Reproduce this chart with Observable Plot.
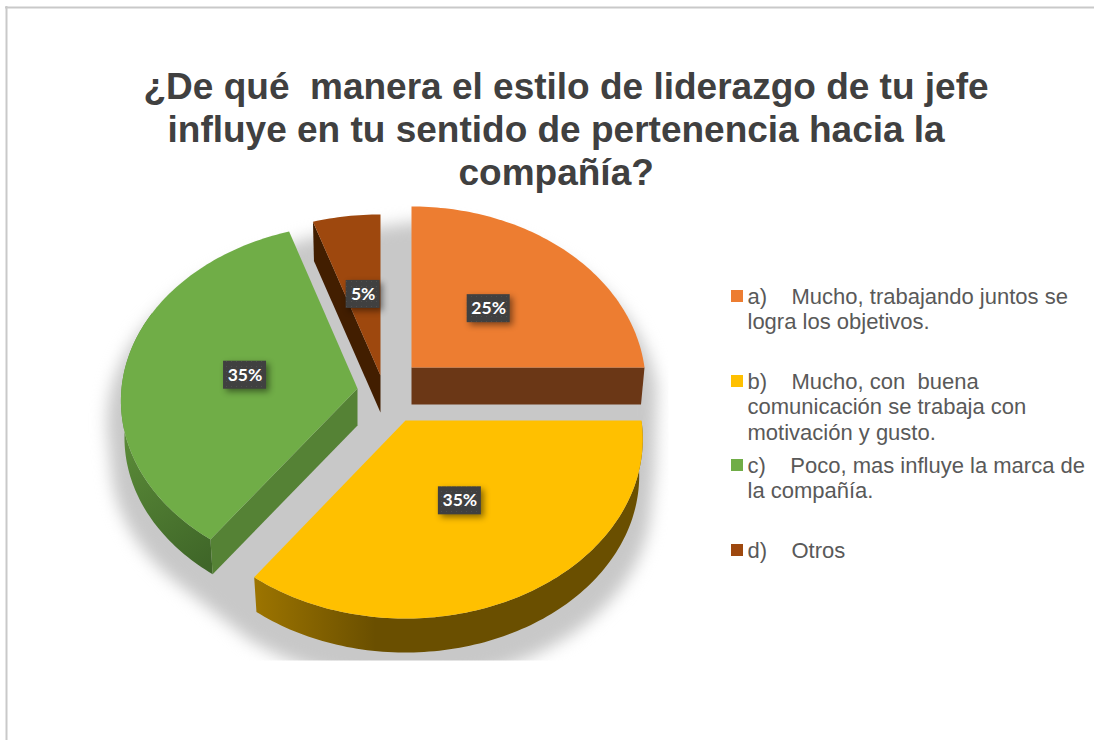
<!DOCTYPE html>
<html>
<head>
<meta charset="utf-8">
<script src="https://cdn.jsdelivr.net/npm/d3@7"></script>
<script src="https://cdn.jsdelivr.net/npm/@observablehq/plot@0.6"></script>
<style>
html,body{margin:0;padding:0;background:#fff;overflow:hidden}
#defs{position:absolute;width:0;height:0}
</style>
</head>
<body>
<svg id="defs" aria-hidden="true">
  <defs>
    <linearGradient id="yellowWall" gradientUnits="userSpaceOnUse" x1="255" y1="0" x2="375" y2="0">
      <stop offset="0" stop-color="#9c7400"/><stop offset="1" stop-color="#6a4f00"/>
    </linearGradient>
    <linearGradient id="greenWall" gradientUnits="userSpaceOnUse" x1="125" y1="440" x2="212" y2="560">
      <stop offset="0" stop-color="#5a8a38"/><stop offset="1" stop-color="#3f6628"/>
    </linearGradient>
    <pattern id="dots" patternUnits="userSpaceOnUse" width="5" height="5">
      <rect width="5" height="5" fill="#404040"/>
      <rect x="1" y="1" width="1" height="1" fill="#4f4f4f"/>
    </pattern>
    <clipPath id="shadowClip"><rect x="0" y="0" width="668" height="660"/></clipPath>
  </defs>
</svg>
<div id="chart"></div>
<script>
// ---- data ----
const titleLines = ["¿De qué  manera el estilo de liderazgo de tu jefe", "influye en tu sentido de pertenencia hacia la", "compañía?"];
const shares = [25, 35, 35, 5];
const shareLabels = ["25%", "35%", "35%", "5%"];
const legendLines = [
  ["a)    Mucho, trabajando juntos se", "logra los objetivos."],
  ["b)    Mucho, con  buena", "comunicación se trabaja con", "motivación y gusto."],
  ["c)    Poco, mas influye la marca de", "la compañía."],
  ["d)    Otros"]
];
const topColors = ["#ed7d31", "#ffc000", "#70ad47", "#9e480e"];
const wallColors = ["#6b3716", "url(#yellowWall)", "url(#greenWall)", "#421e00"];
const cutWallColors = ["#6b3716", null, "#558235", "#421e00"];

// ---- layout of the exploded, tilted pie ----
const apexX = [411, 405, 357, 380];
const apexY = [367, 420, 388, 375];
const radiusX = [233, 236, 236, 240];
const tilts = [177.6, 177.6, 176, 177.6];
const persps = [0.103, 0.103, 0.07, 0.103];
const depth = 37, depthShrink = 0.985;
const titleX = [143, 167, 458], titleY = [98, 141, 184];
const legendFirstBaseline = [303, 388, 472, 557];
const legendLeading = 25.5;

const arcs = d3.pie().sort(null).value(d => d)(shares);

function project(i, angle, r, low) {
  const u = r * Math.sin(angle), v = -r * Math.cos(angle);
  const s = (1 / (1 - persps[i] * v)) * (low ? depthShrink : 1);
  return {x: apexX[i] + radiusX[i] * u * s, y: apexY[i] + tilts[i] * v * s + (low ? depth : 0)};
}
function rim(i, a0, a1, low) {
  const n = Math.max(2, Math.ceil(Math.abs(a1 - a0) / 0.02));
  return d3.range(n + 1).map(k => project(i, a0 + (a1 - a0) * k / n, 1, low));
}
const face = (i, low) => [project(i, 0, 0, low), ...rim(i, arcs[i].startAngle, arcs[i].endAngle, low)];
const poly = (pts, fill) => Plot.line(pts, {x: "x", y: "y", fill, stroke: "none"});
const cutWall = (i, angle) => [project(i, 0, 0, false), project(i, angle, 1, false), project(i, angle, 1, true), project(i, 0, 0, true)];
const outerWall = (i, a0, a1) => [...rim(i, a0, a1, false), ...rim(i, a1, a0, true)];

// soft shadow: hull of all the slices, grown and pushed down, then blurred
const allPts = arcs.flatMap((a, i) => [...face(i, false), ...face(i, true)]);
const hull = d3.polygonHull(allPts.map(p => [p.x, p.y]));
const shadowRows = hull.map(([x, y]) => ({
  x: 395 + (x - 395) * 1.05,
  y: 410 + (y - 410) * 1.03 + 22
}));
const blurred = (px) => (index, scales, values, dims, ctx, next) => {
  const g = next(index, scales, values, dims, ctx);
  g.setAttribute("clip-path", "url(#shadowClip)");
  g.style.filter = `blur(${px}px)`;
  return g;
};

// data labels
const labelRows = arcs.map((a, i) => {
  const p = project(i, (a.startAngle + a.endAngle) / 2, 0.485, false);
  const w = shareLabels[i].length === 2 ? 34 : 43;
  return {...p, label: shareLabels[i], x1: p.x - w / 2, x2: p.x + w / 2, y1: p.y - 14, y2: p.y + 14};
});

const legendRows = legendLines.flatMap((lines, i) => lines.map((text, k) => ({text, x: 747, y: legendFirstBaseline[i] + k * legendLeading})));
const swatchRows = legendFirstBaseline.map((b, i) => ({x1: 731, x2: 743, y1: b - 13, y2: b - 1, fill: topColors[i]}));
const titleRows = titleLines.map((text, i) => ({text, x: titleX[i], y: titleY[i]}));

const chart = Plot.plot({
  width: 1094, height: 740,
  margin: 0,
  x: {domain: [0, 1094], range: [0, 1094], axis: null},
  y: {domain: [0, 740], range: [0, 740], axis: null},
  style: {background: "#fff", display: "block"},
  marks: [
    // page frame
    Plot.ruleY([7], {x1: 5, x2: 1094, stroke: "#c9c9c9", strokeWidth: 2}),
    Plot.ruleX([6], {y1: 6, y2: 740, stroke: "#c9c9c9", strokeWidth: 2}),
    // shadow
    Plot.line(shadowRows, {x: "x", y: "y", fill: "#c8c8c8", stroke: "none", render: blurred(8)}),
    // green
    poly(outerWall(2, arcs[2].startAngle, arcs[2].startAngle + 1.4), wallColors[2]),
    poly(cutWall(2, arcs[2].startAngle), cutWallColors[2]),
    poly(face(2, false), topColors[2]),
    // brown
    poly(cutWall(3, arcs[3].startAngle), cutWallColors[3]),
    poly(face(3, false), topColors[3]),
    // orange
    poly(cutWall(0, arcs[0].endAngle), cutWallColors[0]),
    poly(face(0, false), topColors[0]),
    // yellow
    poly(outerWall(1, arcs[1].startAngle, arcs[1].endAngle), wallColors[1]),
    poly(face(1, false), topColors[1]),
    // data labels
    Plot.rect(labelRows, {x1: "x1", x2: "x2", y1: "y1", y2: "y2", fill: "url(#dots)", inset: 0,
      render: (i, s, v, d, c, next) => { const g = next(i, s, v, d, c); g.style.filter = "drop-shadow(3px 3px 3px rgba(0,0,0,.45))"; return g; }}),
    Plot.text(labelRows, {x: "x", y: "y", text: "label", fill: "#fff", fontFamily: "Lato", fontWeight: 700, fontSize: 17.5}),
    // title
    Plot.text(titleRows, {x: "x", y: "y", text: "text", textAnchor: "start", lineAnchor: "bottom", fill: "#404040", fontFamily: "Liberation Sans", fontWeight: 700, fontSize: 37}),
    // legend
    Plot.rect(swatchRows, {x1: "x1", x2: "x2", y1: "y1", y2: "y2", fill: d => d.fill, inset: 0}),
    Plot.text(legendRows, {x: "x", y: "y", text: "text", textAnchor: "start", lineAnchor: "bottom", fill: "#595959", fontFamily: "Liberation Sans", fontSize: 22})
  ],
  color: {type: "identity"}
});
document.getElementById("chart").append(chart);
</script>
</body>
</html>
